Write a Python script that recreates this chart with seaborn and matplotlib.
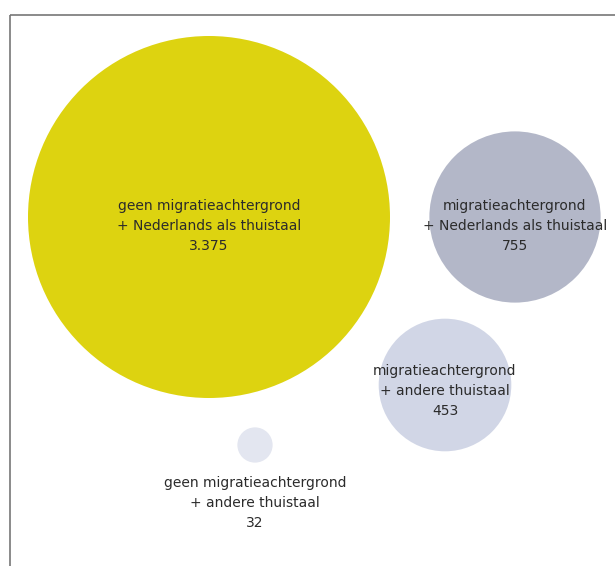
import pandas as pd
import numpy as np
import seaborn as sns
import matplotlib.pyplot as plt
from matplotlib.patches import Rectangle

# data
groups = ["geen migratieachtergrond\n+ Nederlands als thuistaal",
          "migratieachtergrond\n+ Nederlands als thuistaal",
          "migratieachtergrond\n+ andere thuistaal",
          "geen migratieachtergrond\n+ andere thuistaal"]
counts = [3375, 755, 453, 32]
count_labels = ["3.375", "755", "453", "32"]
colors = ["#ddd310", "#b3b7c8", "#d1d6e6", "#e3e6f0"]

# bubble layout (pixel units, y down)
cx = [209, 515, 445, 255]
cy = [217, 217, 385, 445]

df = pd.DataFrame({"group": groups, "n": counts, "x": cx, "y": cy})

sns.set_theme(style="white")
plt.rcParams['font.family'] = ['DejaVu Sans']

W, H = 615, 566
fig = plt.figure(figsize=(W / 100, H / 100), dpi=100)
ax = fig.add_axes([0, 0, 1, 1])

# area proportional to count; largest bubble ~181 px radius
k = (2 * 181 * 72 / 100) ** 2 / max(counts)
sns.scatterplot(data=df, x="x", y="y", hue="group", palette=dict(zip(groups, colors)),
                size="n", sizes={v: v * k for v in counts}, legend=False,
                linewidth=0, alpha=1, ax=ax, zorder=2)

ax.set_xlim(0, W)
ax.set_ylim(H, 0)
ax.axis("off")

txt = dict(ha="center", va="center", fontsize=10, color="#2b2b2b", linespacing=1.55, zorder=3)
offs = [9, 9, 6]
for i in range(3):
    ax.text(cx[i], cy[i] + offs[i], groups[i] + "\n" + count_labels[i], **txt)
ax.text(cx[3], cy[3] + 58, groups[3] + "\n" + count_labels[3], **txt)

# frame
ax.add_patch(Rectangle((9.5, 14.5), W, H, fill=False, edgecolor="#777777", lw=1.2, zorder=4))

plt.savefig("out.png", dpi=100)
